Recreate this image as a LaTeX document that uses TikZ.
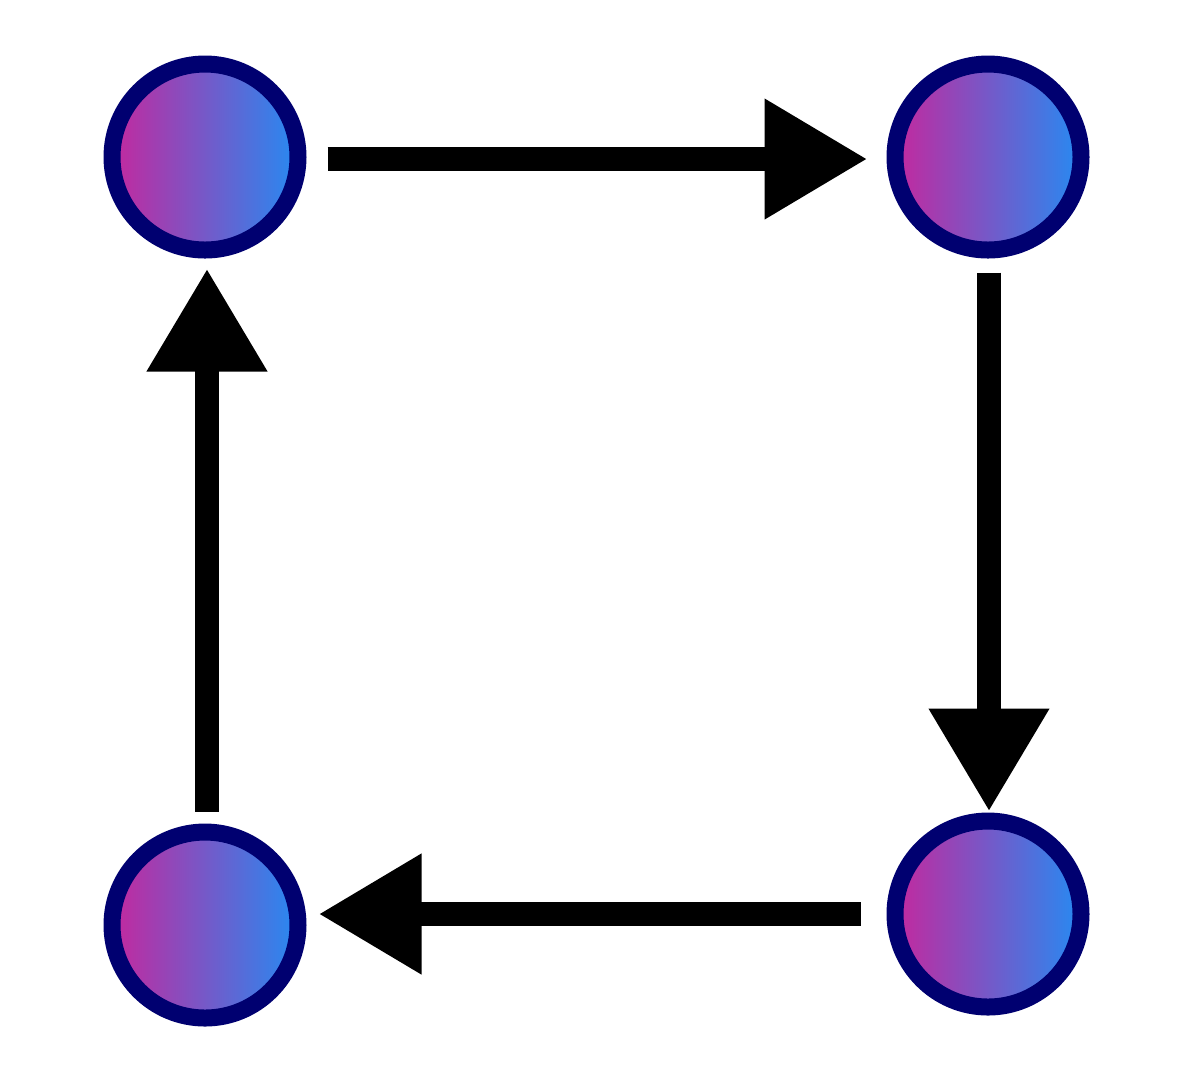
\documentclass[tikz,border=0pt]{standalone}
\usepackage{tikz}
\usetikzlibrary{arrows.meta, positioning, calc}
\definecolor{bordoblu}{RGB}{0,0,112}
\definecolor{rosa}{RGB}{196,40,158}
\definecolor{azzurro}{RGB}{38,138,242}

\tikzset{
  stato/.style={circle, draw=bordoblu, line width=1.7mm, minimum size=18.6mm,
    inner sep=0pt, left color=rosa, right color=azzurro},
  freccia/.style={line width=2.4mm, -{Triangle[length=10.3mm, width=11.4mm]}}
}

\begin{document}
\begin{tikzpicture}[x=0.1mm, y=-0.1mm]
                \useasboundingbox (0,0) rectangle (1200,1080);

                % Stati
                \node[stato] (so) at (205,157) {};
                \node[stato] (ne) at (988,157) {};
                \node[stato] (se) at (988,914) {};
                \node[stato] (sw) at (205,925) {};

                % Frecce del ciclo
                \draw[freccia, shorten <=2.1mm, shorten >=1.9mm] ([yshift=-0.2mm]so.east) -- ([yshift=-0.2mm]ne.west);
                \draw[freccia, shorten <=1.4mm, shorten >=0.1mm] ([xshift=0.1mm]ne.south) -- ([xshift=0.1mm]se.north);
                \draw[freccia, shorten <=2.6mm, shorten >=1.2mm] (se.west) -- (sw.east |- se.west);
                \draw[freccia, shorten <=1.2mm, shorten >=1.0mm] ([xshift=0.2mm]sw.north) -- ([xshift=0.2mm]so.south);
            \end{tikzpicture}
\end{document}
